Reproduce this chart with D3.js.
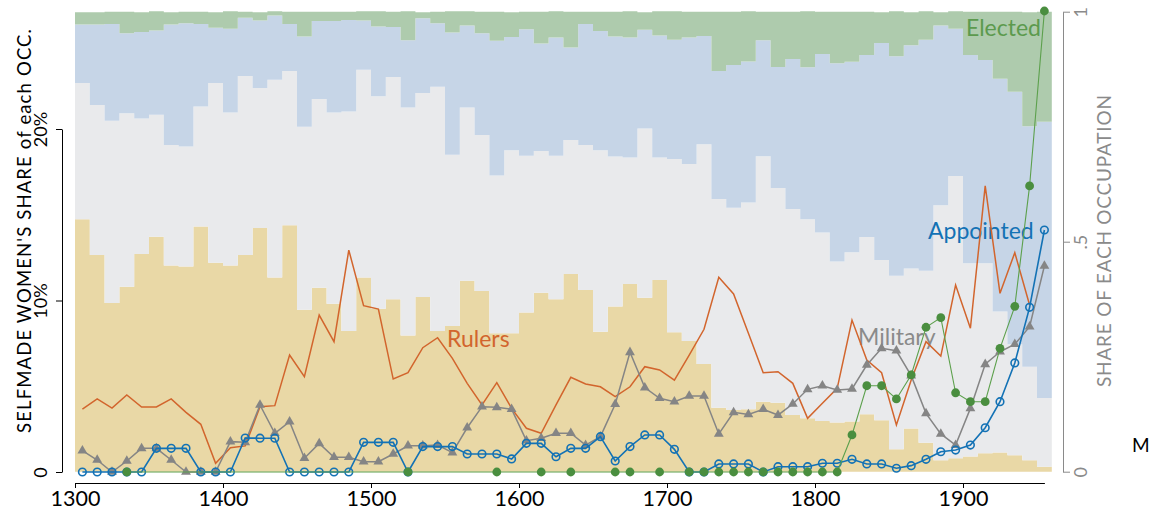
<!DOCTYPE html>
<html><head><meta charset="utf-8">
<script src="https://cdn.jsdelivr.net/npm/d3@7"></script>
<style>
html,body{margin:0;padding:0;background:#fff;}
svg{display:block;font-family:Lato,"Open Sans",sans-serif;}
</style></head>
<body><svg id="c" width="1153" height="512"></svg>
<script>
const decades = [1300,1310,1320,1330,1340,1350,1360,1370,1380,1390,1400,1410,1420,1430,1440,1450,1460,1470,1480,1490,1500,1510,1520,1530,1540,1550,1560,1570,1580,1590,1600,1610,1620,1630,1640,1650,1660,1670,1680,1690,1700,1710,1720,1730,1740,1750,1760,1770,1780,1790,1800,1810,1820,1830,1840,1850,1860,1870,1880,1890,1900,1910,1920,1930,1940,1950];

// share of each occupation (right axis)
const rulersShare = [.549,.471,.367,.402,.473,.511,.448,.446,.533,.454,.448,.471,.530,.422,.536,.352,.400,.365,.306,.422,.354,.375,.296,.380,.306,.317,.415,.393,.301,.301,.346,.389,.375,.430,.395,.304,.359,.408,.378,.417,.303,.284,.234,.139,.134,.136,.152,.150,.123,.116,.110,.107,.109,.125,.112,.049,.094,.063,.025,.029,.033,.040,.042,.036,.025,.011];
const militaryShare = [.296,.326,.396,.377,.295,.265,.262,.261,.261,.391,.333,.389,.304,.430,.335,.398,.410,.416,.477,.452,.462,.483,.496,.443,.531,.372,.377,.339,.343,.398,.341,.308,.312,.291,.315,.395,.326,.275,.368,.266,.377,.385,.478,.454,.440,.449,.534,.467,.448,.433,.410,.350,.368,.385,.348,.377,.348,.374,.554,.614,.420,.413,.306,.241,.203,.149];
const appointedShare = [.127,.175,.210,.174,.188,.183,.262,.268,.179,.120,.182,.127,.147,.140,.102,.196,.170,.199,.199,.107,.152,.109,.146,.163,.138,.266,.178,.221,.293,.246,.275,.234,.257,.201,.263,.259,.261,.261,.215,.265,.259,.275,.235,.278,.310,.307,.252,.263,.326,.330,.388,.431,.414,.396,.472,.477,.485,.502,.391,.320,.453,.442,.506,.549,.523,.601];
const electedShare = [.027,.027,.027,.047,.043,.042,.027,.025,.027,.034,.038,.013,.018,.009,.027,.054,.020,.020,.018,.020,.033,.033,.063,.013,.025,.046,.031,.047,.063,.054,.038,.069,.057,.078,.027,.042,.054,.057,.038,.053,.062,.056,.053,.129,.116,.109,.062,.120,.103,.122,.092,.112,.109,.094,.067,.098,.072,.062,.029,.038,.094,.105,.146,.174,.248,.239];

// selfmade women's share of each occupation, % (left axis)
const rulersWomen = [3.66,4.26,3.73,4.49,3.79,3.79,4.26,3.48,2.78,0.51,1.42,1.52,3.81,3.87,6.82,5.56,9.15,7.60,12.94,9.70,9.50,5.42,5.79,7.25,7.83,6.63,5.17,3.91,5.21,3.71,2.55,2.26,3.91,5.52,5.13,4.97,4.39,4.97,6.14,5.95,5.36,6.82,8.32,11.35,10.38,8.09,5.79,5.85,5.17,3.13,4.01,4.88,8.86,6.53,5.79,2.74,5.36,7.60,6.76,10.90,8.38,16.68,10.42,12.79,9.74,null];
const militaryWomen = [1.24,0.70,0,0.64,1.38,1.38,0.70,0,0,0,1.77,1.73,3.91,2.26,2.93,0.80,1.67,0.86,0.86,0.60,0.60,1.05,1.53,1.53,1.57,1.13,2.58,3.81,3.77,3.66,1.83,1.97,2.26,2.26,1.57,2.06,3.95,6.98,4.92,4.30,4.10,4.43,4.43,2.22,3.48,3.36,3.66,3.32,3.97,4.82,5.03,4.78,4.84,6.24,7.21,7.07,5.62,3.42,2.22,1.57,3.71,6.28,7.01,7.45,8.47,12.01];
const appointedWomen = [0,0,0,0,0,1.38,1.38,1.38,0,0,0,1.98,1.97,1.97,0,0,0,0,0,1.73,1.73,1.73,0,1.48,1.48,1.48,1.05,1.05,1.05,0.76,1.67,1.67,0.89,1.38,1.38,2.06,0.64,1.48,2.16,2.16,1.32,0,0,0.47,0.47,0.47,0,0.31,0.31,0.31,0.51,0.51,0.74,0.47,0.47,0.22,0.37,0.74,1.18,1.28,1.57,2.58,4.10,6.36,9.60,14.11];
const electedWomen = [null,null,null,0,null,null,null,null,null,null,null,null,null,null,null,null,null,null,null,null,null,null,0,null,null,null,null,null,0,null,null,0,null,0,null,null,0,0,null,0,null,0,0,0,0,0,0,0,0,0,0,0,2.16,5.03,5.03,4.26,5.66,8.44,9.00,4.62,4.10,4.10,7.21,9.66,16.68,26.88];

const xTicks = [1300,1400,1500,1600,1700,1800,1900];
const leftTicks = [0,10,20];
const rightTicks = [0,0.5,1];

const svg = d3.select("#c");
const x = d3.scaleLinear().domain([1300,1955]).range([75,1044.4]);
const yL = d3.scaleLinear().domain([0,20]).range([472,129]);
const yR = d3.scaleLinear().domain([0,1]).range([471.7,11.7]);

const keys = ["rulers","military","appointed","elected"];
const table = decades.map((d,i)=>({decade:d, rulers:rulersShare[i], military:militaryShare[i], appointed:appointedShare[i], elected:electedShare[i]}));
const stacked = d3.stack().keys(keys)(table);
const areaColors = {rulers:"#E9D8A6", military:"#E9EAEC", appointed:"#C6D5E7", elected:"#AECBAD"};
const step = 10;
const area = d3.area().curve(d3.curveStepAfter)
  .x(d=>x(d.data.decade)).y0(d=>yR(d[0])).y1(d=>yR(d[1]));
stacked.forEach(layer=>{
  const pts = layer.slice();
  const last = layer[layer.length-1];
  const end = [last[0], last[1]]; end.data = {decade:last.data.decade+step};
  pts.push(end);
  svg.append("path").attr("d", area(pts)).attr("fill", areaColors[layer.key]).attr("stroke","none");
});

// axes
const gx = svg.append("g").attr("transform","translate(0,483)")
  .call(d3.axisBottom(x).tickValues(xTicks).tickFormat(d3.format("d")).tickSize(5).tickSizeOuter(0));
gx.select(".domain").attr("stroke","#000");
gx.selectAll("text").attr("font-size",21.5).attr("fill","#000").attr("font-family","Lato");

const gl = svg.append("g").attr("transform","translate(62,0)")
  .call(d3.axisLeft(yL).tickValues(leftTicks).tickFormat(d=>d===0?"0":d+"%").tickSize(6).tickSizeOuter(0));
gl.selectAll("text").attr("transform","rotate(-90)").attr("x",0).attr("y",-15).attr("dy",0)
  .attr("text-anchor","middle").attr("font-size",18).attr("fill","#000").attr("font-family","Lato");

const gr = svg.append("g").attr("transform","translate(1063,0)")
  .call(d3.axisRight(yR).tickValues(rightTicks).tickFormat(d=>d===0?"0":d===1?"1":".5").tickSize(7).tickSizeOuter(0));
gr.select(".domain").attr("stroke","#8a8a8a");
gr.selectAll(".tick line").attr("stroke","#8a8a8a");
gr.selectAll("text").attr("transform","rotate(-90)").attr("x",0).attr("y",24).attr("dy",0)
  .attr("text-anchor","middle").attr("font-size",18).attr("fill","#8a8a8a").attr("font-family","Lato");

svg.append("text").attr("transform","translate(31,231) rotate(-90)").attr("text-anchor","middle")
  .attr("font-size",18.5).attr("textLength",404).attr("lengthAdjust","spacing")
  .attr("fill","#000").text("SELFMADE WOMEN'S SHARE of each OCC.");
svg.append("text").attr("transform","translate(1111,241) rotate(-90)").attr("text-anchor","middle")
  .attr("font-size",19).attr("textLength",292).attr("lengthAdjust","spacing")
  .attr("fill","#8a8a8a").text("SHARE OF EACH OCCUPATION");

// series labels
const lab = [["Rulers",447,346.5,"#D2652D"],["Military",858,345,"#8a8a8a"],["Appointed",928,239,"#1372B5"],["Elected",966,36,"#5C9A4E"]];
lab.forEach(l=>svg.append("text").attr("x",l[1]).attr("y",l[2]).attr("font-size",23).attr("fill",l[3]).text(l[0]));
svg.append("text").attr("x",1132).attr("y",452).attr("font-size",19).attr("fill","#000").text("M");

// lines
const mid = d=>x(d+5);
function seriesPts(vals){ return decades.map((d,i)=>({d, v:vals[i]})).filter(p=>p.v!==null); }
const line = d3.line().x(p=>mid(p.d)).y(p=>yL(p.v));

const rPts = seriesPts(rulersWomen);
svg.append("path").attr("d",line(rPts)).attr("fill","none").attr("stroke","#D2652D").attr("stroke-width",1.5);

const mPts = seriesPts(militaryWomen);
svg.append("path").attr("d",line(mPts)).attr("fill","none").attr("stroke","#858585").attr("stroke-width",1.5);
svg.selectAll(".tri").data(mPts).join("path").attr("class","tri")
  .attr("transform",p=>`translate(${mid(p.d)},${yL(p.v)})`)
  .attr("d",d3.symbol(d3.symbolTriangle,42)).attr("fill","#858585");

const aPts = seriesPts(appointedWomen);
svg.append("path").attr("d",line(aPts)).attr("fill","none").attr("stroke","#1372B5").attr("stroke-width",1.6);
svg.selectAll(".circ").data(aPts).join("circle").attr("class","circ")
  .attr("cx",p=>mid(p.d)).attr("cy",p=>yL(p.v)).attr("r",3.8)
  .attr("fill","none").attr("stroke","#1372B5").attr("stroke-width",1.6);

const ePts = seriesPts(electedWomen);
svg.append("path").attr("d",line(ePts)).attr("fill","none").attr("stroke","#5CA04C").attr("stroke-width",1.1);
svg.selectAll(".dot").data(ePts).join("circle").attr("class","dot")
  .attr("cx",p=>mid(p.d)).attr("cy",p=>yL(p.v)).attr("r",4.4).attr("fill","#4A8E3F");
</script></body></html>
